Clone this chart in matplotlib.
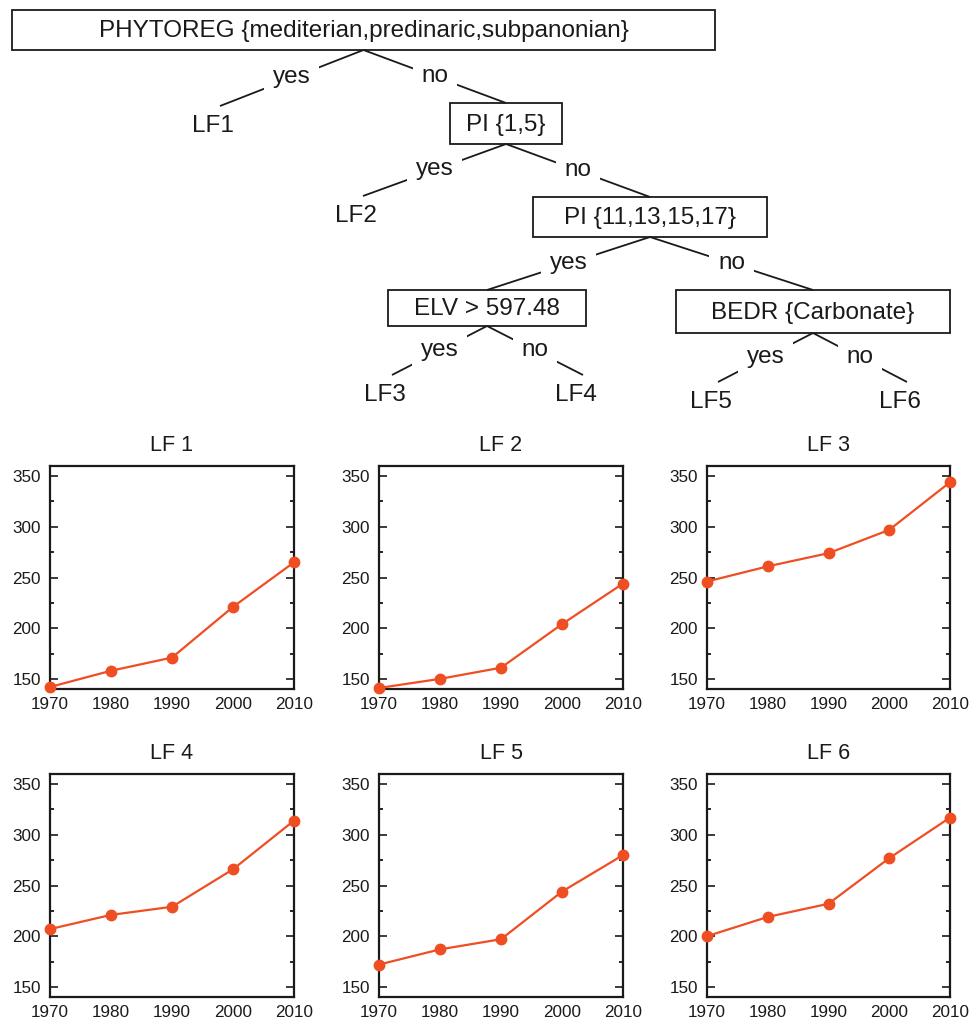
import matplotlib
matplotlib.use("Agg")
import matplotlib.pyplot as plt
from matplotlib.patches import Rectangle
from matplotlib.ticker import MultipleLocator

plt.rcParams['font.family'] = ['Liberation Sans', 'DejaVu Sans']

# ---------------- data ----------------
years = [1970, 1980, 1990, 2000, 2010]
panel_titles = ["LF 1", "LF 2", "LF 3", "LF 4", "LF 5", "LF 6"]
lf1 = [142, 158, 171, 221, 265]
lf2 = [141, 150, 161, 204, 244]
lf3 = [246, 261, 274, 297, 344]
lf4 = [207, 221, 229, 266, 314]
lf5 = [172, 187, 197, 244, 280]
lf6 = [200, 219, 232, 277, 317]
series = [lf1, lf2, lf3, lf4, lf5, lf6]
y_ticks = [150, 200, 250, 300, 350]

# tree node texts
root_text = "PHYTOREG {mediterian,predinaric,subpanonian}"
pi15_text = "PI {1,5}"
pi11_text = "PI {11,13,15,17}"
elv_text = "ELV > 597.48"
bedr_text = "BEDR {Carbonate}"
leaf_texts = ["LF1", "LF2", "LF3", "LF4", "LF5", "LF6"]

# ---------------- figure ----------------
W, H = 971, 1021
DPI = 100
fig = plt.figure(figsize=(W / DPI, H / DPI), dpi=DPI)
fig.patch.set_facecolor("white")

# overlay axes in pixel coordinates for the tree
tax = fig.add_axes([0, 0, 1, 1])
tax.set_xlim(0, W)
tax.set_ylim(H, 0)
tax.axis("off")

FS = 17.5
ink = "#1a1a1a"

# boxes: (x0, y0, x1, y1) layout in pixels
boxes = {
    "root": ((12, 10, 715, 50), root_text),
    "pi15": ((450, 103, 562, 144), pi15_text),
    "pi11": ((533, 197, 767, 237), pi11_text),
    "elv": ((388, 290, 586, 326), elv_text),
    "bedr": ((676, 290, 950, 333), bedr_text),
}
leaf_pos = {
    "LF1": (213, 126), "LF2": (356, 216), "LF3": (385, 395),
    "LF4": (576, 395), "LF5": (711, 402), "LF6": (900, 402),
}

for key, ((x0, y0, x1, y1), txt) in boxes.items():
    tax.add_patch(Rectangle((x0, y0), x1 - x0, y1 - y0, fill=False,
                            lw=1.3, edgecolor=ink, zorder=3))
    tax.text((x0 + x1) / 2, (y0 + y1) / 2 + 1, txt, ha="center", va="center",
             fontsize=FS, color=ink, zorder=4)

for name in leaf_texts:
    x, y = leaf_pos[name]
    tax.text(x, y, name, ha="center", va="center", fontsize=FS, color=ink)


def bottom(key):
    (x0, y0, x1, y1), _ = boxes[key]
    return ((x0 + x1) / 2, y1)


def top(key):
    if key in boxes:
        (x0, y0, x1, y1), _ = boxes[key]
        return ((x0 + x1) / 2, y0)
    x, y = leaf_pos[key]
    return (x + 7, y - 20)


edges = [
    ("root", "LF1", "yes"), ("root", "pi15", "no"),
    ("pi15", "LF2", "yes"), ("pi15", "pi11", "no"),
    ("pi11", "elv", "yes"), ("pi11", "bedr", "no"),
    ("elv", "LF3", "yes"), ("elv", "LF4", "no"),
    ("bedr", "LF5", "yes"), ("bedr", "LF6", "no"),
]
for p, c, lab in edges:
    (px, py), (cx, cy) = bottom(p), top(c)
    tax.plot([px, cx], [py, cy], color=ink, lw=1.3, zorder=1,
             solid_capstyle="butt")
    tax.text((px + cx) / 2, (py + cy) / 2 - 1, lab, ha="center", va="center",
             fontsize=FS, color=ink, zorder=2,
             bbox=dict(boxstyle="square,pad=0.35", fc="white", ec="none"))

# ---------------- panels ----------------
cols = [(50, 294), (379, 623), (707, 950)]
rows = [(466, 689), (774, 997)]
orange = "#ef4e23"
TL = 12.3

for i, (title, vals) in enumerate(zip(panel_titles, series)):
    (x0, x1) = cols[i % 3]
    (y0, y1) = rows[i // 3]
    ax = fig.add_axes([x0 / W, 1 - y1 / H, (x1 - x0) / W, (y1 - y0) / H])
    ax.plot(years, vals, color=orange, lw=1.6, marker="o", markersize=7.5,
            clip_on=False, zorder=3)
    ax.set_xlim(1970, 2010)
    ax.set_ylim(140, 360)
    ax.set_xticks(years)
    ax.set_yticks(y_ticks)
    ax.yaxis.set_minor_locator(MultipleLocator(25))
    ax.tick_params(axis="x", length=0, pad=6, labelsize=TL, colors=ink)
    ax.tick_params(axis="y", which="major", direction="in", length=5.5,
                   width=1.2, left=True, right=True, pad=6.5, labelsize=TL,
                   colors=ink)
    ax.tick_params(axis="y", which="minor", direction="in", length=3,
                   width=1.2, left=True, right=True)
    for s in ax.spines.values():
        s.set_linewidth(1.6)
        s.set_color(ink)
    ax.set_title(title, fontsize=15.5, pad=11, color=ink)

fig.savefig("out.png", dpi=DPI, facecolor="white")
